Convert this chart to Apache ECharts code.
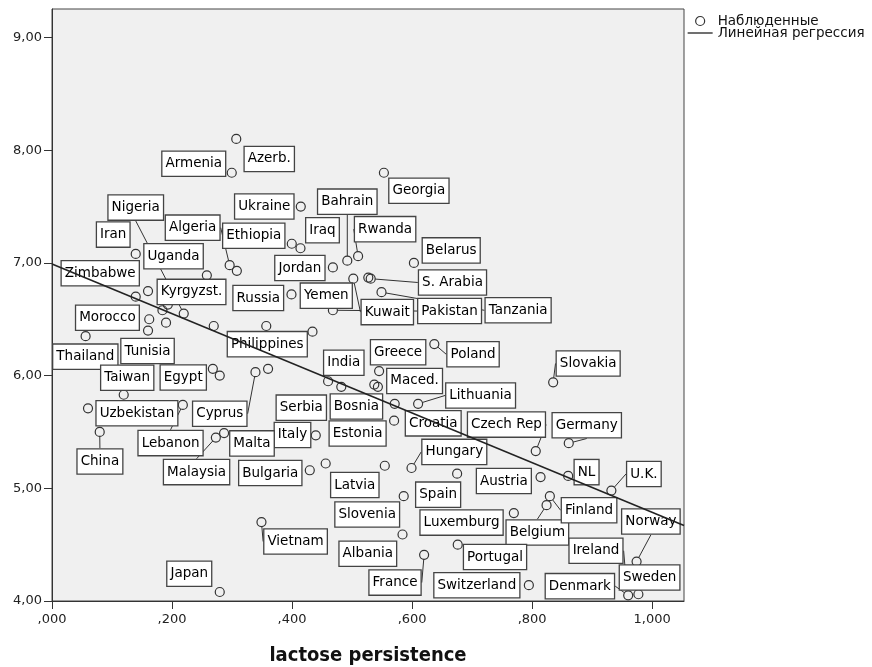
<!DOCTYPE html>
<html>
<head>
<meta charset="utf-8">
<script src="https://cdn.jsdelivr.net/npm/echarts@6/dist/echarts.min.js"></script>
<style>
  html, body { margin: 0; padding: 0; background: #fff; }
  #chart { width: 872px; height: 667px; }
</style>
</head>
<body>
<div id="chart"></div>
<script>
// country labels ('' = unlabelled point)
const countries = [
  'Azerb.', 'Armenia', 'Georgia', 'Ukraine', 'Bahrain', 'Rwanda', 'Iraq', 'Ethiopia', 'Algeria', '',
  'Nigeria', 'Iran', 'Uganda', 'Zimbabwe', 'Kyrgyzst.', 'Jordan', 'Belarus', 'S. Arabia', '', 'Kuwait',
  'Pakistan', 'Tanzania', 'Yemen', 'Russia', 'Morocco', 'Tunisia', 'Thailand', 'Philippines', '', '',
  '', '', 'India', 'Serbia', 'Greece', 'Maced.', '', 'Poland', 'Slovakia', 'Lithuania',
  'Bosnia', 'Estonia', 'Croatia', 'Czech Rep', 'Germany', 'Hungary', 'Latvia', '', 'Bulgaria', 'Spain',
  'Austria', 'NL', 'U.K.', 'Slovenia', 'Albania', 'Luxemburg', 'Belgium', 'Finland', 'Ireland', 'Norway',
  'Denmark', 'Sweden', 'Portugal', 'France', 'Switzerland', 'Vietnam', 'Japan', 'Italy', 'Malta', 'Malaysia',
  'Lebanon', 'China', 'Uzbekistan', 'Taiwan', 'Egypt', '', 'Cyprus', ''
];

// lactose persistence (x)
const lactose = [
  0.307, 0.2995, 0.553, 0.4145, 0.492, 0.51, 0.414, 0.3995, 0.296, 0.308,
  0.2195, 0.1395, 0.258, 0.1395, 0.16, 0.468, 0.603, 0.531, 0.527, 0.502,
  0.468, 0.549, 0.399, 0.357, 0.162, 0.16, 0.056, 0.434, 0.184, 0.193,
  0.19, 0.2695, 0.46, 0.482, 0.545, 0.543, 0.537, 0.637, 0.835, 0.61,
  0.571, 0.570, 0.633, 0.806, 0.861, 0.599, 0.5545, 0.456, 0.4295, 0.675,
  0.814, 0.86, 0.932, 0.586, 0.584, 0.7695, 0.824, 0.8295, 0.956, 0.974,
  0.96, 0.977, 0.676, 0.62, 0.7945, 0.349, 0.2795, 0.4395, 0.2867, 0.273,
  0.218, 0.0795, 0.06, 0.1195, 0.268, 0.2795, 0.339, 0.36
];

// y values
const scores = [
  8.10, 7.80, 7.80, 7.50, 7.02, 7.06, 7.13, 7.17, 6.98, 6.93,
  6.55, 7.08, 6.89, 6.70, 6.75, 6.96, 7.00, 6.86, 6.87, 6.86,
  6.58, 6.74, 6.72, 6.44, 6.50, 6.40, 6.35, 6.39, 6.58, 6.63,
  6.47, 6.44, 5.95, 5.90, 6.04, 5.90, 5.92, 6.28, 5.94, 5.75,
  5.75, 5.60, 5.57, 5.33, 5.40, 5.18, 5.20, 5.22, 5.16, 5.13,
  5.10, 5.11, 4.98, 4.93, 4.59, 4.78, 4.85, 4.93, 4.22, 4.35,
  4.05, 4.06, 4.50, 4.41, 4.14, 4.70, 4.08, 5.47, 5.49, 5.45,
  5.74, 5.50, 5.71, 5.83, 6.06, 6.00, 6.03, 6.06
];

// fitted line end points
const regX = [0, 1.053];
const regY = [6.99, 4.67];

const xTickValues = [0, 0.2, 0.4, 0.6, 0.8, 1.0];
const xTickLabels = [',000', ',200', ',400', ',600', ',800', '1,000'];
const yTickValues = [4, 5, 6, 7, 8, 9];
const yTickLabels = ['4,00', '5,00', '6,00', '7,00', '8,00', '9,00'];

// label box placement: offset of box centre from point, px
const labelOffsets = {
  'Azerb.': [33, 20], 'Armenia': [-38, -9], 'Georgia': [35, 18], 'Ukraine': [-36.5, 0],
  'Bahrain': [0, -59], 'Rwanda': [27, -27], 'Iraq': [22, -18], 'Ethiopia': [-38, -8],
  'Algeria': [-37, -37.5], 'Nigeria': [-48, -106], 'Iran': [-22.5, -19.3], 'Uganda': [-33.3, -19],
  'Zimbabwe': [-35.5, -23.4], 'Kyrgyzst.': [43.5, 0.8], 'Jordan': [-33, 0.6], 'Belarus': [37.3, -12.5],
  'S. Arabia': [81.8, 3.8], 'Kuwait': [34, 33.4], 'Pakistan': [116.7, 0.8], 'Tanzania': [136.6, 18.1],
  'Yemen': [34.8, 1.2], 'Russia': [-8, -28], 'Morocco': [-41.8, -1.5], 'Tunisia': [-0.5, 20.5],
  'Thailand': [-0.3, 20.5], 'Philippines': [-45.2, 12.5], 'India': [15.7, -18.5], 'Serbia': [-40, 20.8],
  'Greece': [19, -18.8], 'Maced.': [36.7, -5.9], 'Poland': [38.7, 10.2], 'Slovakia': [35, -18.9],
  'Lithuania': [62.5, -8.3], 'Bosnia': [-38.3, 2.7], 'Estonia': [-36.5, 12.8], 'Croatia': [1.3, -0.7],
  'Czech Rep': [-29.3, -26.5], 'Germany': [18, -18], 'Hungary': [42.8, -16.1], 'Latvia': [-30, 19.3],
  'Bulgaria': [-39.5, 2.8], 'Spain': [-19, 21], 'Austria': [-36.7, 4], 'NL': [18.4, -3.8],
  'U.K.': [32.5, -16.5], 'Slovenia': [-36.5, 18.3], 'Albania': [-34.7, 19.2], 'Luxemburg': [-52.3, 9.5],
  'Belgium': [-9.2, 27.3], 'Finland': [39.2, 14.1], 'Ireland': [-29.8, -25.5], 'Norway': [14.3, -40],
  'Denmark': [-48.3, -9.2], 'Sweden': [11.2, -16.8], 'Portugal': [37.3, 12.4], 'France': [-29.1, 27.8],
  'Switzerland': [-52, 0], 'Vietnam': [34.1, 19.4], 'Japan': [-30.5, -18.2], 'Italy': [-23.3, -0.4],
  'Malta': [27.9, 10.3], 'Malaysia': [-19.3, 34.5], 'Lebanon': [-12.3, 38.2], 'China': [0.2, 29.5],
  'Uzbekistan': [48.9, 4.9], 'Taiwan': [3.5, -17], 'Egypt': [-29.6, 8.7], 'Cyprus': [-35.7, 41.5]
};
const withLeader = ['Bahrain', 'Rwanda', 'Algeria', 'Nigeria', 'S. Arabia', 'Kuwait', 'Pakistan', 'Tanzania',
  'Poland', 'Slovakia', 'Lithuania', 'Czech Rep', 'Germany', 'Hungary', 'U.K.', 'Belgium', 'Finland',
  'Ireland', 'Norway', 'Denmark', 'France', 'Vietnam', 'Malaysia', 'Lebanon', 'China', 'Cyprus'];

const FONT = 'DejaVu Sans';
const tickFmt = (vals, labels) => (v) => {
  const i = vals.findIndex((t) => Math.abs(t - v) < 1e-6);
  return i < 0 ? '' : labels[i];
};

const points = countries.map((name, i) => ({
  name,
  value: [lactose[i], scores[i]],
  label: { show: name !== '' },
  labelLine: { show: withLeader.includes(name) }
}));

const chart = echarts.init(document.getElementById('chart'), null, { renderer: 'canvas' });

chart.setOption({
  animation: false,
  backgroundColor: '#ffffff',
  grid: {
    left: 52, right: 188, top: 9, bottom: 66,
    show: true, backgroundColor: '#f0f0f0', borderColor: '#444', borderWidth: 1,
    outerBoundsMode: 'none'
  },
  legend: {
    orient: 'vertical',
    left: 687,
    top: 14,
    padding: 0,
    itemWidth: 25,
    itemHeight: 9,
    itemGap: -2,
    textStyle: { fontFamily: FONT, fontSize: 13.5, color: '#111', lineHeight: 11 },
    data: [
      { name: 'Наблюденные', icon: 'circle', itemStyle: { color: 'rgba(0,0,0,0)', borderColor: '#333', borderWidth: 1.2 } },
      { name: 'Линейная регрессия', itemStyle: { opacity: 0 }, lineStyle: { color: '#222', width: 1.3 } }
    ]
  },
  xAxis: {
    type: 'value',
    min: 0,
    max: 1.053,
    name: 'lactose persistence',
    nameLocation: 'middle',
    nameGap: 45,
    nameTextStyle: { fontFamily: 'DejaVu Sans Condensed', fontWeight: 'bold', fontSize: 20, color: '#111' },
    axisLine: { show: true, lineStyle: { color: '#333', width: 1 } },
    axisTick: { show: true, length: 8, customValues: xTickValues, lineStyle: { color: '#333' } },
    axisLabel: { customValues: xTickValues, formatter: tickFmt(xTickValues, xTickLabels), fontFamily: FONT, fontSize: 13, color: '#222', margin: 12 },
    splitLine: { show: false }
  },
  yAxis: {
    type: 'value',
    min: 4,
    max: 9.253,
    axisLine: { show: true, lineStyle: { color: '#333', width: 1 } },
    axisTick: { show: true, length: 8, customValues: yTickValues, lineStyle: { color: '#333' } },
    axisLabel: { customValues: yTickValues, formatter: tickFmt(yTickValues, yTickLabels), fontFamily: FONT, fontSize: 13, color: '#222', margin: 10 },
    splitLine: { show: false }
  },
  series: [
    {
      name: 'Наблюденные',
      type: 'scatter',
      z: 2,
      symbol: 'circle',
      symbolSize: 9,
      itemStyle: { color: 'rgba(0,0,0,0)', borderColor: '#333', borderWidth: 1.2, opacity: 1 },
      label: {
        show: true,
        position: 'inside',
        formatter: '{b}',
        fontFamily: FONT,
        fontSize: 13.5,
        lineHeight: 16,
        color: '#000',
        backgroundColor: '#fff',
        borderColor: '#444',
        borderWidth: 1.3,
        padding: [4, 3, 4, 3]
      },
      labelLine: { show: false, lineStyle: { color: '#333', width: 1 } },
      labelLayout: function (params) {
        const off = labelOffsets[countries[params.dataIndex]];
        if (!off) return {};
        return {
          x: params.rect.x + params.rect.width / 2 + off[0],
          y: params.rect.y + params.rect.height / 2 + off[1],
          align: 'center',
          verticalAlign: 'middle'
        };
      },
      emphasis: { disabled: true },
      data: points
    },
    {
      name: 'Линейная регрессия',
      type: 'line',
      z: 5,
      symbol: 'none',
      color: '#222',
      lineStyle: { color: '#222', width: 1.5 },
      emphasis: { disabled: true },
      data: regX.map((x, i) => [x, regY[i]])
    }
  ]
});
</script>
</body>
</html>
